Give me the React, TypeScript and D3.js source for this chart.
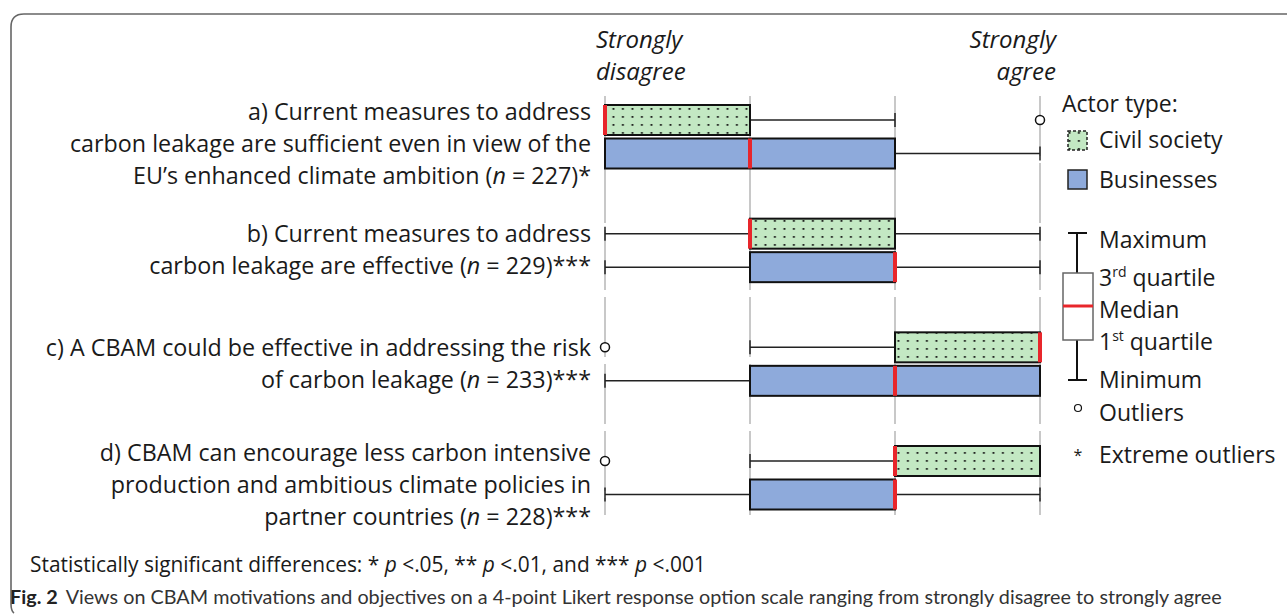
import React from "react";
import * as d3 from "d3";

// statements (label lines) and sample sizes
const items = ["a", "b", "c", "d"];
const labelLines = [
  ["a) Current measures to address", "carbon leakage are sufficient even in view of the", "EU’s enhanced climate ambition (|227|)*"],
  ["b) Current measures to address", "carbon leakage are effective (|229|)***"],
  ["c) A CBAM could be effective in addressing the risk", "of carbon leakage (|233|)***"],
  ["d) CBAM can encourage less carbon intensive", "production and ambitious climate policies in", "partner countries (|228|)***"],
];

// civil society box stats (1 = strongly disagree ... 4 = strongly agree)
const civilMin = [1, 1, 2, 2];
const civilQ1 = [1, 2, 3, 3];
const civilMed = [1, 2, 4, 3];
const civilQ3 = [2, 3, 4, 4];
const civilMax = [3, 4, 4, 4];
const civilOutliers = [[4], [], [1], [1]];

// businesses box stats
const bizMin = [1, 1, 1, 1];
const bizQ1 = [1, 2, 2, 2];
const bizMed = [2, 3, 3, 3];
const bizQ3 = [3, 3, 4, 3];
const bizMax = [4, 4, 4, 4];
const bizOutliers = [[], [], [], []];

const scaleTicks = [1, 2, 3, 4];

const W = 1287;
const H = 615;
const FONT = "'Open Sans', 'DejaVu Sans', sans-serif";
const TXT = "#1a1a1a";

function Label({ line, x, y }) {
  // "|n|" marks the italic n = value part
  const parts = line.split("|");
  if (parts.length === 1) return <text x={x} y={y} textAnchor="end">{line}</text>;
  return (
    <text x={x} y={y} textAnchor="end">
      {parts[0]}
      <tspan fontStyle="italic">n</tspan>
      {" = " + parts[1]}
      {parts[2]}
    </text>
  );
}

export default function App() {
  const x = d3.scaleLinear().domain([1, 4]).range([605, 1040]);
  const y = d3.scalePoint().domain(items).range([120, 461]);
  const boxH = 30;
  const pairGap = 33.5;
  const capH = 14;

  const series = [
    { key: "civil", fill: "url(#dots)", min: civilMin, q1: civilQ1, med: civilMed, q3: civilQ3, max: civilMax, out: civilOutliers, dy: 0 },
    { key: "biz", fill: "#8eaadb", min: bizMin, q1: bizQ1, med: bizMed, q3: bizQ3, max: bizMax, out: bizOutliers, dy: pairGap },
  ];

  return (
    <svg width={W} height={H} style={{ position: "absolute", left: 0, top: 0, background: "#fff" }} fontFamily={FONT}>
      <defs>
        <pattern id="dots" width="9.5" height="8" patternUnits="userSpaceOnUse" x="1" y="1">
          <rect width="9.5" height="8" fill="#c3e8c3" />
          <rect x="3.5" y="3" width="1.8" height="1.8" fill="#111" />
        </pattern>
      </defs>

      {/* frame */}
      <path d="M1287,14 L24,14 Q11,14 11,27 L11,604 Q11,611 14,613" fill="none" stroke="#666" strokeWidth={1.6} />

      {/* scale headers */}
      <g fontSize={24} fontStyle="italic" fill={TXT}>
        <text x={596} y={48}>Strongly</text>
        <text x={596} y={80}>disagree</text>
        <text x={1056} y={48} textAnchor="end">Strongly</text>
        <text x={1056} y={80} textAnchor="end">agree</text>
      </g>

      {/* dashed grid */}
      {scaleTicks.map((t) => (
        <line key={t} x1={x(t)} x2={x(t)} y1={96} y2={515} stroke="#c8c8c8" strokeWidth={2} strokeDasharray="60 7" />
      ))}

      {/* statement labels */}
      <g fontSize={23.3} fill={TXT}>
        {items.map((it, i) => {
          const lines = labelLines[i];
          const mid = y(it) + pairGap / 2 + (lines.length === 3 ? 7 : 0);
          const top = mid - ((lines.length - 1) * 32) / 2;
          return lines.map((ln, j) => <Label key={it + j} line={ln} x={591} y={top + j * 32 + 8} />);
        })}
      </g>

      {/* boxes */}
      {items.map((it, i) =>
        series.map((s) => {
          const cy = y(it) + s.dy;
          const x0 = x(s.q1[i]);
          const x1 = x(s.q3[i]);
          return (
            <g key={it + s.key}>
              {s.min[i] < s.q1[i] && (
                <g stroke="#222" strokeWidth={1.5}>
                  <line x1={x(s.min[i])} x2={x0} y1={cy} y2={cy} />
                  <line x1={x(s.min[i])} x2={x(s.min[i])} y1={cy - capH / 2} y2={cy + capH / 2} />
                </g>
              )}
              {s.max[i] > s.q3[i] && (
                <g stroke="#222" strokeWidth={1.5}>
                  <line x1={x1} x2={x(s.max[i])} y1={cy} y2={cy} />
                  <line x1={x(s.max[i])} x2={x(s.max[i])} y1={cy - capH / 2} y2={cy + capH / 2} />
                </g>
              )}
              <rect x={x0} y={cy - boxH / 2} width={x1 - x0} height={boxH} fill={s.fill} stroke="#111" strokeWidth={2} />
              <line x1={x(s.med[i])} x2={x(s.med[i])} y1={cy - boxH / 2} y2={cy + boxH / 2} stroke="#e8262b" strokeWidth={4} />
              {s.out[i].map((o) => (
                <circle key={o} cx={x(o)} cy={cy} r={4.5} fill="#fff" stroke="#111" strokeWidth={1.5} />
              ))}
            </g>
          );
        })
      )}

      {/* legend */}
      <g fontSize={23} fill={TXT}>
        <text x={1062} y={112}>Actor type:</text>
        <rect x={1068} y={131} width={19} height={19} fill="url(#dots)" stroke="#222" strokeWidth={1.5} strokeDasharray="3 2" />
        <text x={1099} y={148}>Civil society</text>
        <rect x={1068} y={170} width={19} height={19} fill="#8eaadb" stroke="#222" strokeWidth={1.5} />
        <text x={1099} y={188}>Businesses</text>

        <g stroke="#111" strokeWidth={2}>
          <line x1={1068} x2={1087} y1={233} y2={233} />
          <line x1={1077} x2={1077} y1={233} y2={273} />
          <line x1={1077} x2={1077} y1={340} y2={380} />
          <line x1={1068} x2={1087} y1={380} y2={380} />
        </g>
        <rect x={1063} y={273} width={30} height={67} fill="#fff" stroke="#666" strokeWidth={1.5} />
        <line x1={1063} x2={1093} y1={306} y2={306} stroke="#e8262b" strokeWidth={3} />

        <text x={1099} y={248}>Maximum</text>
        <text x={1099} y={286}>3<tspan fontSize={14} dy={-9}>rd</tspan><tspan dy={9}> quartile</tspan></text>
        <text x={1099} y={318}>Median</text>
        <text x={1099} y={350}>1<tspan fontSize={14} dy={-9}>st</tspan><tspan dy={9}> quartile</tspan></text>
        <text x={1099} y={388}>Minimum</text>
        <circle cx={1078} cy={408} r={3.5} fill="#fff" stroke="#111" strokeWidth={1.2} />
        <text x={1099} y={421}>Outliers</text>
        <text x={1078} y={461} fontSize={16} textAnchor="middle">*</text>
        <text x={1099} y={463}>Extreme outliers</text>
      </g>

      {/* significance note */}
      <text x={30} y={572} fontSize={20.9} fill={TXT}>
        Statistically significant differences: * <tspan fontStyle="italic">p</tspan> &lt;.05, ** <tspan fontStyle="italic">p</tspan> &lt;.01, and *** <tspan fontStyle="italic">p</tspan> &lt;.001
      </text>

      {/* caption */}
      <text x={10} y={604} fontSize={19.8} fill="#333" fontFamily="Lato, sans-serif">
        <tspan fontWeight="bold" fill="#222">Fig. 2</tspan>
        <tspan dx={8}>Views on CBAM motivations and objectives on a 4-point Likert response option scale ranging from strongly disagree to strongly agree</tspan>
      </text>
    </svg>
  );
}
